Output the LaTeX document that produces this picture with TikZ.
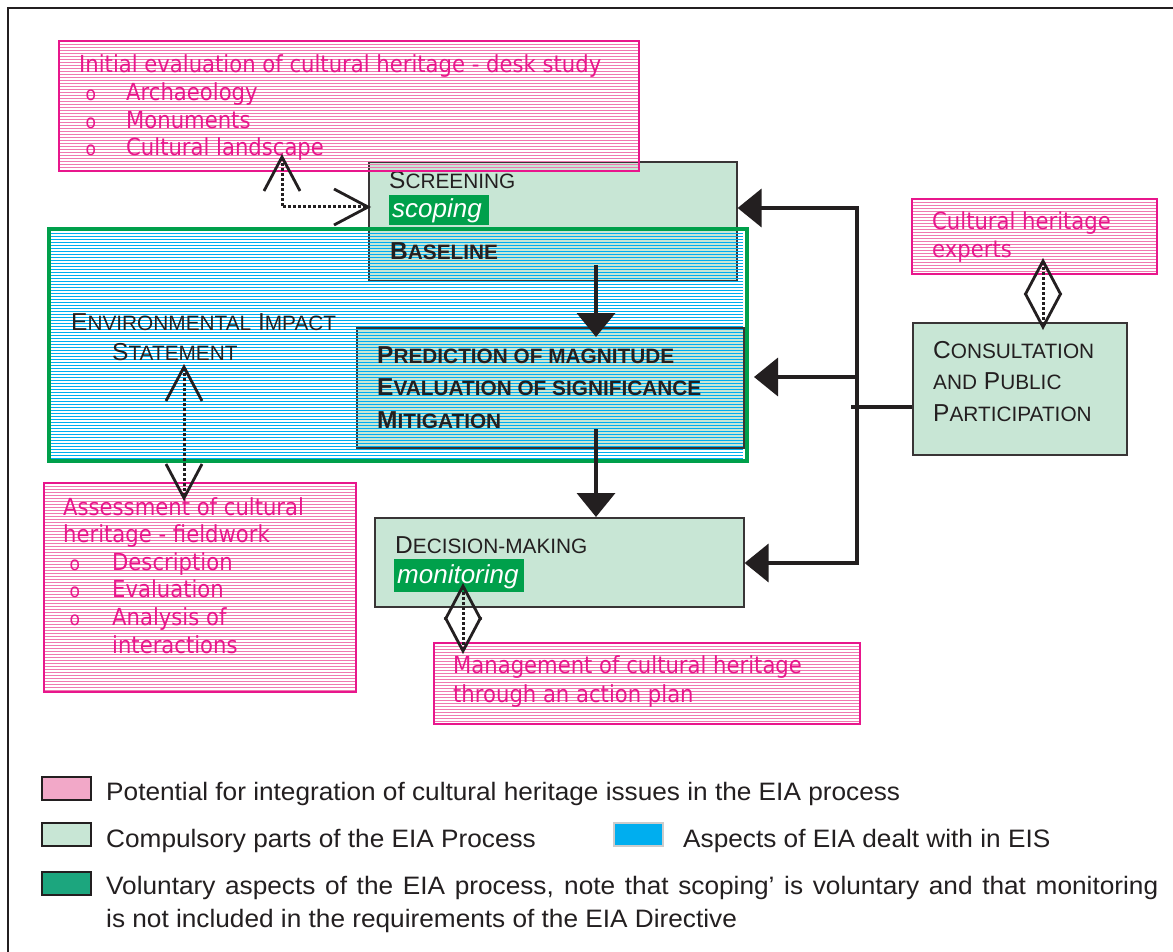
\documentclass[tikz,border=0pt]{standalone}
\usepackage{fontspec}
\setmainfont{Liberation Sans}
\newfontfamily\pinkfont[FakeStretch=0.9]{DejaVu Sans}
\newfontfamily\legfont[FakeStretch=1.04]{Liberation Sans}
\usetikzlibrary{arrows.meta}

\definecolor{chpink}{RGB}{232,22,140}
\definecolor{chline}{RGB}{240,120,176}
\definecolor{paleg}{RGB}{200,230,213}
\definecolor{darkg}{RGB}{0,160,75}
\definecolor{eisblue}{RGB}{0,174,239}
\definecolor{ink}{RGB}{35,31,32}
\definecolor{legpink}{RGB}{242,168,200}
\definecolor{legteal}{RGB}{28,166,126}

% fake small capitals: large initial, smaller rest
\newcommand\capsc[2]{{\fontsize{24.5}{28}\selectfont #1}{\fontsize{20.8}{28}\selectfont #2}}
% pink heritage text
\newcommand\pk{\pinkfont\fontsize{23.5}{27.6}\selectfont\color{chpink}}
% bulleted line: width of bullet column, item text
\newcommand\bul[2]{\hbox{\hbox to #1{\hskip6.5pt{\fontsize{19}{20}\selectfont o}\hss}#2}}
% horizontal line fill clipped to a rectangle: x1 y1 x2 y2 colour step width
\newcommand\hatch[7]{%
  \begin{scope}
    \clip (#1,#2) rectangle (#3,#4);
    \foreach \k in {0,...,90}{\draw[#5,line width=#7] (#1,#2+1.5+#6*\k) -- (#3,#2+1.5+#6*\k);}
  \end{scope}}

\tikzset{
  pinkbox/.style={draw=chpink, line width=2pt, inner sep=0pt, anchor=north west},
  greenbox/.style={draw=ink!90, line width=1.6pt, fill=paleg, inner sep=0pt, anchor=north west},
  lbl/.style={anchor=base west, inner sep=0pt, text=ink},
  fb/.style={draw=ink, line width=3.8pt},
  dotc/.style={draw=ink, line width=3pt, dash pattern=on 3pt off 2pt},
  vbarb/.tip={Straight Barb[length=34pt,width=36pt,line width=2.8pt]},
  fbtip/.tip={Triangle[length=24pt,width=38pt]},
  legsq/.style={draw=ink, line width=1.6pt, minimum width=49pt, minimum height=23pt, inner sep=0pt, anchor=north west},
  legtext/.style={anchor=base west, inner sep=0pt, text=ink, font=\legfont\fontsize{25.2}{33}\selectfont}
}

\begin{document}
\begin{tikzpicture}[x=1pt,y=-1pt]
\useasboundingbox (0,0) rectangle (1173,952);
\fill[white] (0,0) rectangle (1173,952);

% page frame
\draw[ink, line width=1.5pt] (8,952) -- (8,8) -- (1173,8);

% ---- screening / scoping / baseline
\node[greenbox, minimum width=368pt, minimum height=119pt] (scr) at (368,161) {};
\node[fill=darkg, minimum width=100pt, minimum height=30pt, inner sep=0pt, anchor=north west] (scopebg) at (389,195) {};
\node[lbl, text=white, font=\itshape\fontsize{26}{28}\selectfont] (scoping) at (392,218) {scoping};
\node[lbl] (screening) at (389,189) {\capsc{S}{CREENING}};

% ---- desk study box
\hatch{58}{40}{638}{170}{chline}{3}{1pt}
\node[lbl, text=chpink] (desktxt) at (79,73) {\pk\vtop{\hbox{Initial evaluation of cultural heritage - desk study}\bul{47pt}{Archaeology}\bul{47pt}{Monuments}\bul{47pt}{Cultural landscape}}};
\node[pinkbox, minimum width=580pt, minimum height=130pt] (desk) at (58,40) {};

% ---- environmental impact statement
\node[greenbox, minimum width=387pt, minimum height=120pt] (pred) at (356,327) {};
\hatch{49}{229}{743}{458}{eisblue}{3}{1pt}
\node[lbl] (eistxt) at (71,330) {\fontsize{24.5}{31}\selectfont\vtop{\hbox{\capsc{E}{NVIRONMENTAL} \capsc{I}{MPACT}}\hbox{\hskip41pt\capsc{S}{TATEMENT}}}};
\node[lbl] (baseline) at (390,260) {\bfseries\capsc{B}{ASELINE}};
\node[lbl] (predtxt) at (377,363) {\bfseries\fontsize{24}{32.5}\selectfont\vtop{\hbox{\capsc{P}{REDICTION OF MAGNITUDE}}\hbox{\capsc{E}{VALUATION OF SIGNIFICANCE}}\hbox{\capsc{M}{ITIGATION}}}};
\node[draw=darkg, line width=4pt, minimum width=698pt, minimum height=232pt, inner sep=0pt, anchor=north west] (eis) at (47,227) {};

% ---- decision making
\node[greenbox, minimum width=369pt, minimum height=89pt] (dec) at (374,517) {};
\node[fill=darkg, minimum width=130pt, minimum height=33pt, inner sep=0pt, anchor=north west] (monbg) at (394,559) {};
\node[lbl, text=white, font=\itshape\fontsize{26}{28}\selectfont] (monitoring) at (397,583) {monitoring};
\node[lbl] (dectxt) at (395,553) {\capsc{D}{ECISION-MAKING}};

% ---- consultation
\node[greenbox, minimum width=214pt, minimum height=132pt] (cons) at (912,322) {};
\node[lbl] (constxt) at (933,358) {\fontsize{24.5}{31.5}\selectfont\vtop{\hbox{\capsc{C}{ONSULTATION}}\hbox{\capsc{}{AND} \capsc{P}{UBLIC}}\hbox{\capsc{P}{ARTICIPATION}}}};

% ---- other heritage boxes
\hatch{911}{198}{1156}{273}{chline}{3}{1pt}
\node[lbl, text=chpink] (exptxt) at (932,230) {\pk\vtop{\hbox{Cultural heritage}\hbox{experts}}};
\node[pinkbox, minimum width=245pt, minimum height=75pt] (exp) at (911,198) {};

\hatch{43}{482}{355}{691}{chline}{3}{1pt}
\node[lbl, text=chpink] (asstxt) at (63,515) {\pk\vtop{\hbox{Assessment of cultural}\hbox{heritage - fieldwork}\bul{49pt}{Description}\bul{49pt}{Evaluation}\bul{49pt}{Analysis of}\hbox{\hskip49pt interactions}}};
\node[pinkbox, minimum width=312pt, minimum height=209pt] (assess) at (43,482) {};

\hatch{433}{642}{859}{723}{chline}{3}{1pt}
\node[lbl, text=chpink] (mgmttxt) at (453,673) {\pk\baselineskip=29pt\vtop{\hbox{Management of cultural heritage}\hbox{through an action plan}}};
\node[pinkbox, minimum width=426pt, minimum height=81pt] (mgmt) at (433,642) {};

% ---- process flow arrows
\coordinate (bsout) at (596,265);
\coordinate (predin) at (596,337);
\coordinate (mitout) at (596,429);
\draw[fb, -fbtip] (bsout) -- (predin);
\draw[fb, -fbtip] (mitout) -- (mitout |- dec.north);

% ---- consultation feedback
\coordinate (jtop) at (857,208);
\coordinate (jmid) at (857,377);
\coordinate (jbot) at (857,563);
\coordinate (jin) at (851,407);
\coordinate (eisin2) at (754,377);
\draw[fb, fbtip-fbtip] (scr.east |- jtop) -- (jtop) -- (jbot) -- (dec.east |- jbot);
\draw[fb, -fbtip] (jmid) -- (eisin2);
\draw[fb] (cons.west |- jin) -- (jin);

% ---- heritage links (dotted, open heads)
\coordinate (deskin) at (282,154);
\coordinate (scopein) at (371,207);
\draw[dotc, vbarb-vbarb] (deskin) |- (scopein);

\coordinate (eisin) at (184,364);
\coordinate (assin) at (184,501);
\draw[dotc, vbarb-vbarb] (eisin) -- (assin);

\coordinate (monin) at (463,583);
\coordinate (mgmtin) at (463,654);
\draw[dotc, vbarb-vbarb] (monin) -- (mgmtin);

\coordinate (expin) at (1043,258);
\coordinate (consin) at (1043,330);
\draw[dotc, vbarb-vbarb] (expin) -- (consin);

% ---- key
\node[legsq, fill=legpink] (kpink) at (41,776) {};
\node[legtext] (kpinktxt) at (106,800) {Potential for integration of cultural heritage issues in the EIA process};
\node[legsq, fill=paleg] (kgreen) at (41,822) {};
\node[legtext] (kgreentxt) at (106,847) {Compulsory parts of the EIA Process};
\node[legsq, draw=black!20, fill=eisblue] (kblue) at (613,822) {};
\node[legtext] (kbluetxt) at (683,847) {Aspects of EIA dealt with in EIS};
\node[legsq, fill=legteal] (kteal) at (41,871) {};
\node[legtext] (ktealtxt) at (106,894) {\vtop{\hbox{\makebox[1052pt][s]{Voluntary aspects of the EIA process, note that scoping’ is voluntary and that monitoring}}\hbox{is not included in the requirements of the EIA Directive}}};
\end{tikzpicture}
\end{document}
